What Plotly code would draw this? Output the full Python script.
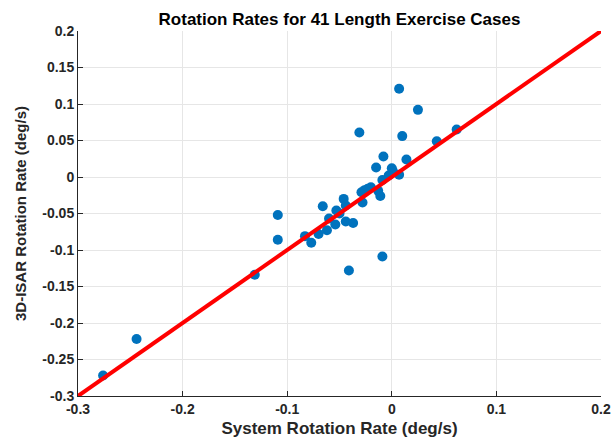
import plotly.graph_objects as go

system_rate = [0.007, 0.025, -0.031, 0.010, 0.043, 0.062, -0.008, 0.014, -0.015, 0.000,
               0.001, 0.007, -0.009, -0.020, -0.026, -0.029, -0.013, -0.011, -0.028, -0.046,
               -0.044, -0.066, -0.053, -0.060, -0.054, -0.062, -0.070, -0.044, -0.037, -0.109,
               -0.109, -0.083, -0.077, -0.009, -0.041, -0.131, -0.244, -0.276, -0.023, -0.003,
               -0.050]
isar_rate = [0.121, 0.092, 0.061, 0.056, 0.049, 0.065, 0.028, 0.024, 0.013, 0.012,
             0.008, 0.003, -0.004, -0.014, -0.018, -0.021, -0.019, -0.026, -0.035, -0.030,
             -0.039, -0.040, -0.046, -0.057, -0.065, -0.073, -0.078, -0.061, -0.063, -0.052,
             -0.086, -0.081, -0.090, -0.109, -0.128, -0.134, -0.222, -0.272, -0.016, 0.002,
             -0.050]
line_x = [-0.3, 0.2]
line_y = [-0.3, 0.2]

tickvals_x = [-0.3, -0.2, -0.1, 0, 0.1, 0.2]
ticktext_x = ["-0.3", "-0.2", "-0.1", "0", "0.1", "0.2"]
tickvals_y = [-0.3, -0.25, -0.2, -0.15, -0.1, -0.05, 0, 0.05, 0.1, 0.15, 0.2]
ticktext_y = ["-0.3", "-0.25", "-0.2", "-0.15", "-0.1", "-0.05", "0", "0.05", "0.1", "0.15", "0.2"]

fig = go.Figure()
fig.add_trace(go.Scatter(x=system_rate, y=isar_rate, mode="markers",
                         marker=dict(color="#0072BD", size=10, line=dict(width=0)),
                         showlegend=False))
fig.add_trace(go.Scatter(x=line_x, y=line_y, mode="lines",
                         line=dict(color="#FF0000", width=4), showlegend=False))

font_family = "Liberation Sans, Arial, sans-serif"
fig.update_layout(
    width=615, height=438,
    margin=dict(l=78, r=14, t=31, b=42, autoexpand=False),
    paper_bgcolor="white", plot_bgcolor="white",
    title=dict(text="<b>Rotation Rates for 41 Length Exercise Cases</b>",
               x=0.5, xanchor="center", xref="paper", y=0.957, yanchor="middle",
               font=dict(family=font_family, size=17, color="#000000")),
    font=dict(family=font_family, color="#262626"),
)
fig.update_xaxes(range=[-0.3, 0.2], tickvals=tickvals_x, ticktext=ticktext_x,
                 automargin=False,
                 showgrid=True, gridcolor="#E6E6E6", gridwidth=1,
                 zeroline=False, showline=True, linecolor="#262626", linewidth=1,
                 mirror=False, ticks="inside", ticklen=5, tickcolor="#262626",
                 tickfont=dict(family=font_family, size=14, color="#262626", weight="bold"),
                 title=dict(text="<b>System Rotation Rate (deg/s)</b>", standoff=11,
                            font=dict(family=font_family, size=17, color="#262626")))
fig.update_yaxes(range=[-0.3, 0.2], tickvals=tickvals_y, ticktext=ticktext_y,
                 automargin=False,
                 showgrid=True, gridcolor="#E6E6E6", gridwidth=1,
                 zeroline=False, showline=True, linecolor="#262626", linewidth=1,
                 mirror=False, ticks="inside", ticklen=5, tickcolor="#262626",
                 tickfont=dict(family=font_family, size=14, color="#262626", weight="bold"),
                 title=dict(text="<b>3D-ISAR Rotation Rate (deg/s)</b>", standoff=12,
                            font=dict(family=font_family, size=15, color="#262626")))

fig.write_html("out.html")
